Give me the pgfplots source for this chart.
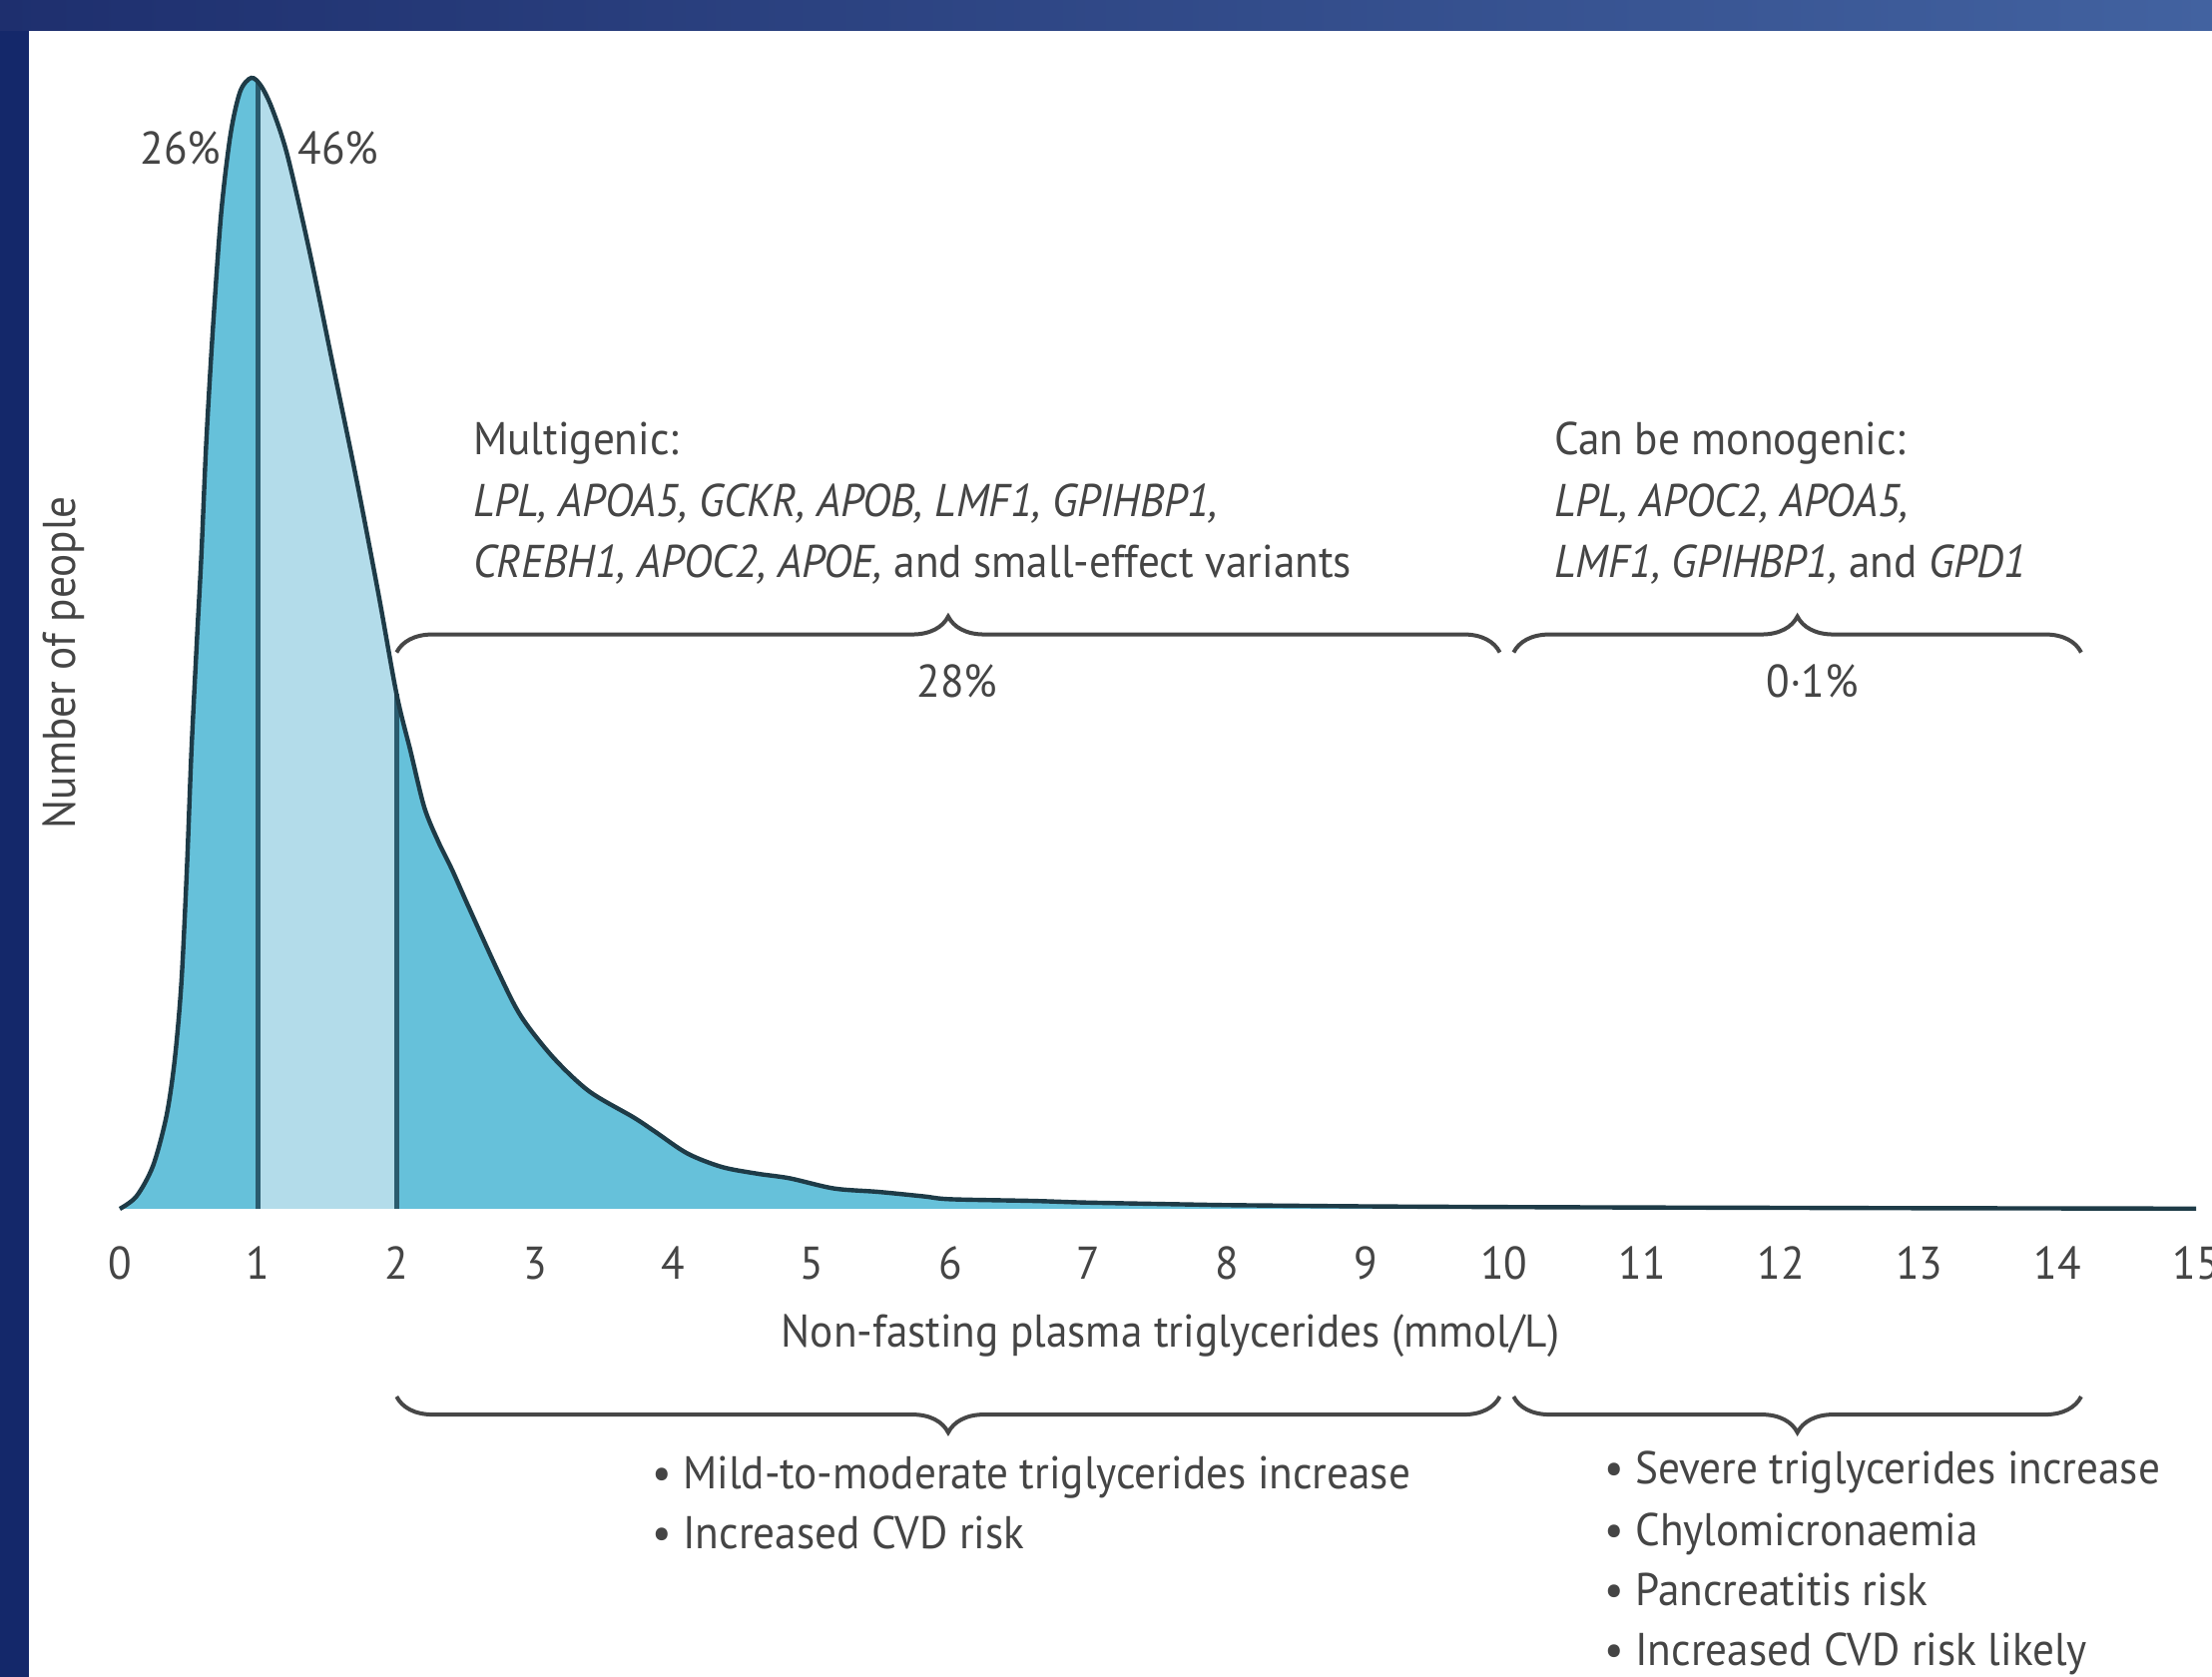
\documentclass[border=0pt]{standalone}
\usepackage{fontspec}
\setmainfont{PT Sans}[FakeStretch=0.94]
\usepackage{pgfplots}
\usepackage{pgfplotstable}
\pgfplotsset{compat=1.18}
\usepgfplotslibrary{fillbetween}
\usetikzlibrary{decorations.pathreplacing}
\tikzset{fill between/on layer=main}

\definecolor{navyL}{HTML}{1E2F6E}
\definecolor{navyR}{HTML}{4262A0}
\definecolor{navyS}{HTML}{14286A}
\definecolor{midblue}{HTML}{66C1DA}
\definecolor{lightblue}{HTML}{B3DCEA}
\definecolor{curvecol}{HTML}{1E3B47}
\definecolor{divcol}{HTML}{2A5B6E}
\definecolor{txt}{HTML}{454545}
\newcommand\lab{\fontsize{11.5}{14}\selectfont}

\pgfplotstableread{
x y
0 0
0.12 1.1
0.24 3.8
0.337 8.2
0.397 13.2
0.445 20.0
0.485 30.1
0.517 40.3
0.556 50.0
0.589 57.7
0.625 67.8
0.673 77.9
0.733 88.1
0.80 95.0
0.87 98.8
0.95 100
1.02 99.3
1.10 97.3
1.21 93.2
1.37 84.7
1.54 74.6
1.71 64.5
1.87 54.3
2.0 45.5
2.1 40.5
2.2 35.5
2.3 32.5
2.4 30.0
2.52 26.7
2.74 20.8
2.90 17.0
3.13 13.4
3.39 10.4
3.71 8.1
3.87 6.8
4.10 4.9
4.35 3.7
4.61 3.1
4.84 2.7
5.16 1.8
5.48 1.5
5.81 1.1
6.0 0.85
6.6 0.7
7.0 0.55
7.8 0.37
8 0.33
9 0.22
10 0.16
11 0.12
12 0.09
13 0.06
14 0.04
15 0.02
}\curvedata

\begin{document}
\begin{tikzpicture}
\fill[white] (-30pt,-117.25pt) rectangle (524pt,302.75pt);
\fill[navyS] (-30pt,-117.25pt) rectangle (-22.75pt,302.75pt);
\shade[left color=navyL, right color=navyR] (-30pt,295pt) rectangle (524pt,302.75pt);
\begin{axis}[
  scale only axis, width=520pt, height=283.25pt,
  xmin=0, xmax=15, ymin=0, ymax=100,
  axis x line=bottom, axis y line=left,
  x axis line style={-, line width=1.3pt, color=black!85},
  y axis line style={-, line width=0.8pt, color=black!60},
  xtick={0,...,15}, ytick=\empty,
  tick align=outside, major tick length=6pt,
  xtick style={line width=0.8pt, color=black!70},
  xticklabel style={font=\lab, text=txt, yshift=0pt},
  /pgf/number format/assume math mode=true,
  clip=false,
]
\addplot[name path=curve, smooth, draw=none] table[x=x,y=y]{\curvedata};
\addplot[name path=base, draw=none] coordinates {(0,0) (15,0)};
\addplot[fill=midblue, draw=none] fill between[of=curve and base, soft clip={domain=0:1}];
\addplot[fill=lightblue, draw=none] fill between[of=curve and base, soft clip={domain=1:2}];
\addplot[fill=midblue, draw=none] fill between[of=curve and base, soft clip={domain=2:15}];
\addplot[divcol, line width=1.4pt] coordinates {(1,0) (1,99.6)};
\addplot[divcol, line width=1.4pt] coordinates {(2,0) (2,45.5)};
\addplot[curvecol, line width=1.1pt, smooth] table[x=x,y=y]{\curvedata};

% percentages
\node[font=\lab, text=txt, anchor=base] at (axis cs:0.44,92.4) {26\%};
\node[font=\lab, text=txt, anchor=base] at (axis cs:1.58,92.4) {46\%};
\node[font=\lab, text=txt, anchor=base] at (axis cs:6.05,45.2) {28\%};
\node[font=\lab, text=txt, anchor=base] at (axis cs:12.23,45.2) {0·1\%};

% upper text blocks
\node[font=\lab, text=txt, anchor=base west, inner sep=0pt] at (axis cs:2.55,66.7) {Multigenic:};
\node[font=\lab, text=txt, anchor=base west, inner sep=0pt] at (axis cs:2.55,61.25) {\textit{LPL, APOA5, GCKR, APOB, LMF1, GPIHBP1,}};
\node[font=\lab, text=txt, anchor=base west, inner sep=0pt] at (axis cs:2.55,55.8) {\textit{CREBH1, APOC2, APOE,} and small-effect variants};
\node[font=\lab, text=txt, anchor=base west, inner sep=0pt] at (axis cs:10.36,66.7) {Can be monogenic:};
\node[font=\lab, text=txt, anchor=base west, inner sep=0pt] at (axis cs:10.36,61.25) {\textit{LPL, APOC2, APOA5,}};
\node[font=\lab, text=txt, anchor=base west, inner sep=0pt] at (axis cs:10.36,55.8) {\textit{LMF1, GPIHBP1,} and \textit{GPD1}};

% braces
\draw[decorate, decoration={brace, amplitude=9pt}, line width=1pt, black!72] (axis cs:2.0,49.2) -- (axis cs:9.97,49.2);
\draw[decorate, decoration={brace, amplitude=9pt}, line width=1pt, black!72] (axis cs:10.07,49.2) -- (axis cs:14.17,49.2);
\draw[decorate, decoration={brace, amplitude=9pt}, line width=1pt, black!72] (axis cs:9.97,-16.6) -- (axis cs:2.0,-16.6);
\draw[decorate, decoration={brace, amplitude=9pt}, line width=1pt, black!72] (axis cs:14.17,-16.6) -- (axis cs:10.07,-16.6);

% axis labels
\node[font=\lab, text=txt, anchor=base] at (axis cs:7.59,-12.2) {Non-fasting plasma triglycerides (mmol/L)};
\node[font=\lab, text=txt, rotate=90] at (axis cs:-0.404,48.3) {Number of people};

% lower text
\node[font=\lab, text=txt, anchor=base west, inner sep=0pt] at (axis cs:3.84,-24.8) {\textbullet\ Mild-to-moderate triglycerides increase};
\node[font=\lab, text=txt, anchor=base west, inner sep=0pt] at (axis cs:3.84,-30.05) {\textbullet\ Increased CVD risk};
\node[font=\lab, text=txt, anchor=base west, inner sep=0pt] at (axis cs:10.72,-24.3) {\textbullet\ Severe triglycerides increase};
\node[font=\lab, text=txt, anchor=base west, inner sep=0pt] at (axis cs:10.72,-29.8) {\textbullet\ Chylomicronaemia};
\node[font=\lab, text=txt, anchor=base west, inner sep=0pt] at (axis cs:10.72,-35.1) {\textbullet\ Pancreatitis risk};
\node[font=\lab, text=txt, anchor=base west, inner sep=0pt] at (axis cs:10.72,-40.4) {\textbullet\ Increased CVD risk likely};
\end{axis}
\pgfresetboundingbox
\path[use as bounding box] (-30pt,-117.25pt) rectangle (524pt,302.75pt);
\end{tikzpicture}
\end{document}
